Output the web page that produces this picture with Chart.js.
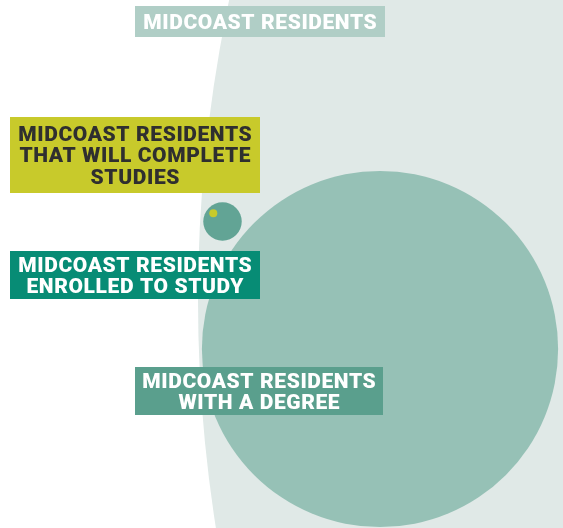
<!DOCTYPE html>
<html>
<head>
<meta charset="utf-8">
<script src="https://cdn.jsdelivr.net/npm/chart.js@4"></script>
<style>
  html, body { margin: 0; padding: 0; background: #ffffff; }
  #wrap { width: 563px; height: 528px; }
</style>
</head>
<body>
<div id="wrap"><canvas id="bubbleChart"></canvas></div>
<script>
// Data (bubble area ~ value)
const categories = ['Midcoast residents', 'With a degree', 'Enrolled to study', 'Will complete studies'];
const values = [213000, 3170, 37, 1.6];
const bubbleX = [1658, 380, 222.5, 213.3];
const bubbleY = [300, 349, 221.5, 213.3];
const labelLines = [
    ['MIDCOAST RESIDENTS'],
    ['MIDCOAST RESIDENTS', 'WITH A DEGREE'],
    ['MIDCOAST RESIDENTS', 'ENROLLED TO STUDY'],
    ['MIDCOAST RESIDENTS', 'THAT WILL COMPLETE', 'STUDIES'],
];

const bubbleColors = ['#e0e9e7', '#96c1b6', '#62a495', '#c8ca2b'];
const maxRadius = 1460;

// label boxes (layout only)
const labelBoxes = [
    { x: 135, y: 6, w: 250, h: 31, bg: '#b0cec6', color: '#ffffff' },
    { x: 135, y: 367, w: 248, h: 48, bg: '#5a9f8d', color: '#ffffff' },
    { x: 10, y: 251, w: 250, h: 48, bg: '#078c75', color: '#ffffff' },
    { x: 10, y: 117, w: 250, h: 76, bg: '#c8ca2b', color: '#2f2f2f' },
];

const vmax = Math.max(...values);
const points = values.map((v, i) => ({
    x: bubbleX[i],
    y: bubbleY[i],
    r: maxRadius * Math.sqrt(v / vmax),
}));

const labelPlugin = {
    id: 'boxLabels',
    afterDatasetsDraw(chart) {
        const ctx = chart.ctx;
        ctx.save();
        ctx.font = '900 21px Roboto';
        ctx.letterSpacing = '0.6px';
        ctx.textAlign = 'center';
        ctx.textBaseline = 'alphabetic';
        labelBoxes.forEach((box, i) => {
            ctx.fillStyle = box.bg;
            ctx.fillRect(box.x, box.y, box.w, box.h);
            const lines = labelLines[i];
            const cy = box.y + box.h / 2;
            ctx.fillStyle = box.color;
            lines.forEach((line, j) => {
                const c = cy + (j - (lines.length - 1) / 2) * 21.3;
                ctx.fillText(line, box.x + box.w / 2 + 0.3, c + 7.3);
            });
        });
        ctx.restore();
    },
};

const ctx = document.getElementById('bubbleChart').getContext('2d');
new Chart(ctx, {
    type: 'bubble',
    data: {
        labels: categories,
        datasets: [
            {
                data: points,
                backgroundColor: bubbleColors,
                borderWidth: 0,
                hoverRadius: 0,
                clip: false,
            },
        ],
    },
    options: {
        responsive: true,
        maintainAspectRatio: false,
        animation: false,
        layout: { padding: 0, autoPadding: false },
        scales: {
            x: { display: false, min: 0, max: 563 },
            y: { display: false, min: 0, max: 528, reverse: true },
        },
        plugins: {
            legend: { display: false },
            tooltip: { enabled: false },
        },
    },
    plugins: [labelPlugin],
});
</script>
</body>
</html>
